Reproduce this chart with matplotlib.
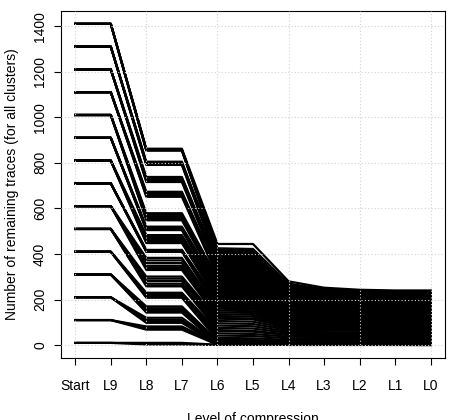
import numpy as np
import matplotlib
matplotlib.use('Agg')
import matplotlib.pyplot as plt

plt.rcParams['font.family'] = ['Liberation Sans', 'DejaVu Sans']

levels = ['Start', 'L9', 'L8', 'L7', 'L6', 'L5', 'L4', 'L3', 'L2', 'L1', 'L0']

# traces at Start (= L9) for each group of runs
starts = [1410, 1310, 1210, 1110, 1010, 910, 810, 710, 610, 510, 410, 310, 210, 110, 10]

# per group: one row per run with remaining traces at L8, L6, L5, L4, L3, L2, L1, L0
# (L7 keeps the L8 value)
after_l9 = [
    [  # start 1410
        [862, 444, 444, 280, 252, 243, 240, 240],
        [858, 425, 422, 270, 246, 238, 236, 236],
        [857, 419, 416, 266, 243, 236, 234, 234],
        [856, 413, 410, 262, 240, 233, 231, 231],
        [855, 407, 404, 258, 237, 231, 229, 229],
        [854, 402, 399, 255, 235, 229, 227, 227],
    ],
    [  # start 1310
        [805, 397, 394, 252, 233, 227, 225, 225],
        [801, 391, 388, 248, 230, 225, 223, 223],
        [798, 385, 382, 245, 228, 222, 220, 220],
        [795, 379, 376, 241, 225, 220, 218, 218],
        [793, 373, 370, 238, 222, 217, 215, 215],
        [791, 368, 365, 234, 220, 215, 213, 213],
    ],
    [  # start 1210
        [738, 364, 361, 232, 218, 213, 211, 211],
        [733, 358, 355, 228, 215, 210, 208, 208],
        [728, 352, 349, 224, 212, 207, 205, 205],
        [724, 346, 343, 221, 209, 204, 203, 203],
        [720, 340, 337, 217, 206, 202, 200, 200],
        [716, 334, 331, 213, 203, 199, 197, 197],
    ],
    [  # start 1110
        [673, 330, 327, 211, 201, 197, 195, 195],
        [668, 324, 321, 207, 198, 194, 192, 192],
        [663, 318, 315, 203, 195, 191, 189, 189],
        [659, 312, 309, 199, 191, 188, 186, 186],
        [655, 306, 303, 196, 188, 185, 183, 183],
        [651, 300, 297, 192, 185, 182, 180, 180],
    ],
    [  # start 1010
        [579, 296, 293, 190, 183, 180, 178, 178],
        [572, 290, 287, 186, 179, 176, 175, 175],
        [565, 284, 281, 182, 176, 173, 172, 172],
        [558, 278, 275, 178, 172, 170, 169, 169],
        [553, 272, 269, 175, 169, 167, 166, 166],
        [548, 266, 263, 171, 166, 164, 163, 163],
    ],
    [  # start 910
        [520, 262, 259, 169, 164, 162, 161, 161],
        [516, 256, 253, 165, 160, 158, 157, 157],
        [512, 250, 247, 161, 157, 155, 154, 154],
        [509, 244, 241, 158, 154, 152, 151, 151],
        [506, 238, 235, 154, 150, 148, 147, 147],
        [505, 232, 229, 150, 146, 145, 144, 144],
    ],
    [  # start 810
        [483, 228, 225, 148, 144, 142, 141, 141],
        [474, 222, 219, 144, 140, 139, 138, 138],
        [466, 216, 213, 140, 137, 135, 134, 134],
        [458, 210, 207, 137, 133, 132, 131, 131],
        [451, 204, 201, 133, 130, 128, 127, 127],
        [448, 198, 195, 129, 126, 125, 124, 124],
    ],
    [  # start 710
        [418, 194, 191, 127, 124, 122, 121, 121],
        [416, 188, 185, 123, 120, 119, 118, 118],
        [414, 182, 179, 119, 116, 115, 114, 114],
        [412, 176, 173, 116, 113, 112, 111, 111],
        [410, 170, 167, 112, 109, 108, 107, 107],
        [410, 164, 161, 108, 105, 104, 103, 103],
    ],
    [  # start 610
        [383, 160, 157, 106, 103, 102, 101, 101],
        [372, 152, 149, 101, 98, 97, 96, 96],
        [360, 144, 141, 96, 93, 92, 91, 91],
        [348, 136, 133, 91, 88, 87, 86, 86],
        [338, 128, 125, 86, 83, 82, 81, 81],
        [330, 120, 117, 81, 78, 77, 76, 76],
    ],
    [  # start 510
        [301, 116, 113, 78, 76, 75, 74, 74],
        [292, 106, 103, 72, 70, 69, 68, 68],
        [282, 96, 93, 66, 64, 63, 62, 62],
        [270, 86, 83, 59, 57, 56, 56, 56],
        [262, 76, 73, 53, 51, 50, 50, 50],
        [258, 66, 63, 46, 45, 44, 44, 44],
    ],
    [  # start 410
        [230, 62, 59, 44, 42, 41, 41, 41],
        [224, 52, 49, 37, 36, 35, 35, 35],
        [218, 42, 40, 30, 29, 29, 28, 28],
        [212, 32, 30, 23, 22, 22, 22, 22],
        [208, 24, 22, 18, 17, 17, 17, 17],
    ],
    [  # start 310
        [170, 20, 18, 15, 14, 14, 14, 14],
        [162, 16, 14, 12, 11, 11, 11, 11],
        [154, 12, 11, 9, 9, 9, 9, 9],
        [147, 9, 8, 7, 7, 7, 7, 7],
        [143, 6, 5, 4, 4, 4, 4, 4],
    ],
    [  # start 210
        [120, 8, 7, 6, 6, 6, 6, 6],
        [110, 6, 5, 5, 5, 5, 5, 5],
        [102, 4, 4, 3, 3, 3, 3, 3],
        [98, 3, 3, 2, 2, 2, 2, 2],
    ],
    [  # start 110
        [82, 5, 4, 4, 4, 4, 4, 4],
        [75, 3, 3, 2, 2, 2, 2, 2],
        [68, 2, 2, 1, 1, 1, 1, 1],
    ],
    [  # start 10
        [10, 2, 2, 1, 1, 1, 1, 1],
        [3, 1, 1, 1, 1, 1, 1, 0],
    ],
]

fs = 10
x = np.arange(len(levels))

fig = plt.figure(figsize=(4.5, 4.2), dpi=100)
ax = fig.add_axes([61 / 450, 1 - 358 / 420, 384 / 450, 347 / 420])

for s, runs in zip(starts, after_l9):
    for r in runs:
        # Start, L9, L8, L7 (same as L8), L6 ... L0
        y = [s, s, r[0], r[0]] + r[1:]
        ax.plot(x, y, color='black', linewidth=1.6, zorder=2)

ax.set_xlim(-0.4, 10.4)
ax.set_ylim(-56.4, 1466.4)

ax.set_xticks(x)
ax.set_xticklabels(levels)
ax.set_yticks(range(0, 1401, 200))
ax.set_yticklabels([str(v) for v in range(0, 1401, 200)], rotation=90, va='center')

# grid like R's grid(): dotted lightgray, drawn over the lines
for gx in range(0, 11, 2):
    ax.axvline(gx, color='lightgray', linestyle=(0, (1, 2)), linewidth=0.8, zorder=3)
for gy in range(0, 1401, 200):
    ax.axhline(gy, color='lightgray', linestyle=(0, (1, 2)), linewidth=0.8, zorder=3)

for sp in ax.spines.values():
    sp.set_linewidth(0.8)
    sp.set_color('black')

ax.tick_params(axis='both', which='major', labelsize=fs, length=5, width=0.8)
ax.tick_params(axis='x', pad=10)
ax.tick_params(axis='y', pad=5)

ax.set_xlabel('Level of compression', fontsize=fs, labelpad=14)
ax.set_ylabel('Number of remaining traces (for all clusters)', fontsize=fs, labelpad=10)

plt.savefig('out.png', dpi=100)
plt.close()
